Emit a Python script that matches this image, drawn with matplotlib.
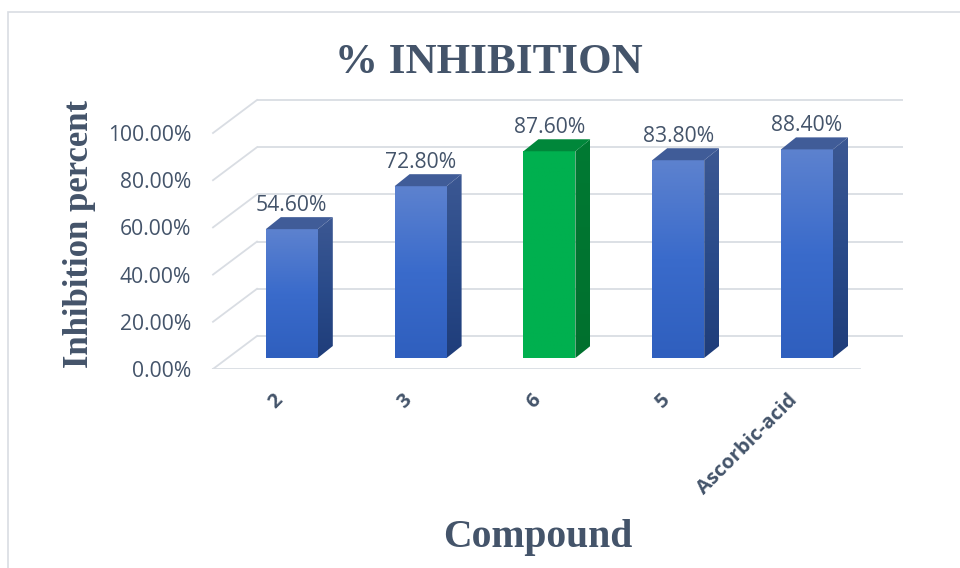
import matplotlib
matplotlib.use("Agg")
import matplotlib.pyplot as plt
import matplotlib.transforms as mtransforms
import numpy as np
from matplotlib.patches import Polygon, Rectangle
from matplotlib.colors import LinearSegmentedColormap

# ---------------- data ----------------
categories = ["2", "3", "6", "5", "Ascorbic-acid"]
values = [54.6, 72.8, 87.6, 83.8, 88.4]
value_labels = ["54.60%", "72.80%", "87.60%", "83.80%", "88.40%"]
ytick_values = [0, 20, 40, 60, 80, 100]
ytick_labels = ["0.00%", "20.00%", "40.00%", "60.00%", "80.00%", "100.00%"]
highlight = [False, False, True, False, False]

title = "% INHIBITION"
xlabel = "Compound"
ylabel = "Inhibition percent"

# ---------------- style / geometry ----------------
TXT = "#44546a"
GRID = "#d9dde3"
W, H, DPI = 960, 568, 100

PX_PER_CAT = 128.8
X0_PX = 291.8          # front centre of first bar
PX_PER_UNIT_Y = 2.36
Y0_PX = 369            # front floor line
AX_L_PX, AX_R_PX = 200, 910
AX_TOP_PX = 90

xlim = ((AX_L_PX - X0_PX) / PX_PER_CAT, (AX_R_PX - X0_PX) / PX_PER_CAT)
ylim = (0, (Y0_PX - AX_TOP_PX) / PX_PER_UNIT_Y)

# 3-D offsets in data units
WALL_DX, WALL_DY = 44 / PX_PER_CAT, 33 / PX_PER_UNIT_Y
BAR_DX, BAR_DY = 15 / PX_PER_CAT, 12 / PX_PER_UNIT_Y
BAR_BASE = 11 / PX_PER_UNIT_Y
BAR_W = 52 / PX_PER_CAT
FRONT_L = (213 - X0_PX) / PX_PER_CAT
FRONT_R = (860 - X0_PX) / PX_PER_CAT
BACK_R = (903 - X0_PX) / PX_PER_CAT

fig = plt.figure(figsize=(W / DPI, H / DPI), dpi=DPI)
fig.patch.set_facecolor("white")

# chart border
fig.add_artist(Rectangle((8 / W, -0.1), 1.2, 1 - 12 / H + 0.1, transform=fig.transFigure,
                         fill=False, edgecolor=GRID, linewidth=1.2))

ax = fig.add_axes([AX_L_PX / W, (H - Y0_PX) / H, (AX_R_PX - AX_L_PX) / W,
                   (Y0_PX - AX_TOP_PX) / H])
ax.set_xlim(*xlim)
ax.set_ylim(*ylim)
for s in ax.spines.values():
    s.set_visible(False)
ax.patch.set_alpha(0)

# gridlines: back wall + left wall diagonals
for p in ytick_values:
    ax.plot([FRONT_L + WALL_DX, BACK_R], [p + WALL_DY, p + WALL_DY], color=GRID, lw=1.3,
            zorder=1, solid_capstyle="butt")
    ax.plot([FRONT_L, FRONT_L + WALL_DX], [p, p + WALL_DY], color=GRID, lw=1.3, zorder=1)
# floor front edge
ax.plot([FRONT_L, FRONT_R], [0, 0], color=GRID, lw=1.3, zorder=1)

blue_front = LinearSegmentedColormap.from_list("bf", ["#2f5fbe", "#3a6bcb", "#5d82cf"])
blue_side = LinearSegmentedColormap.from_list("bs", ["#1f3d7a", "#2a4b8a", "#3c5893"])
green_front = LinearSegmentedColormap.from_list("gf", ["#00b04f", "#00b04f"])
green_side = LinearSegmentedColormap.from_list("gs", ["#00702e", "#007a33"])
grad = np.linspace(0, 1, 256).reshape(-1, 1)

for i, (v, hl) in enumerate(zip(values, highlight)):
    xl, xr = i - BAR_W / 2, i + BAR_W / 2
    yb, yt = BAR_BASE, BAR_BASE + v
    front_cm = green_front if hl else blue_front
    side_cm = green_side if hl else blue_side
    top_c = "#00873a" if hl else "#405c98"

    front = Rectangle((xl, yb), BAR_W, v, facecolor="none", edgecolor="none")
    ax.add_patch(front)
    im = ax.imshow(grad, cmap=front_cm, origin="lower", extent=[xl, xr, yb, yt],
                   aspect="auto", zorder=3, interpolation="bilinear")
    im.set_clip_path(front)
    side = Polygon([(xr, yb), (xr + BAR_DX, yb + BAR_DY), (xr + BAR_DX, yt + BAR_DY), (xr, yt)],
                   closed=True, facecolor="none", edgecolor="none")
    ax.add_patch(side)
    im2 = ax.imshow(grad, cmap=side_cm, origin="lower",
                    extent=[xr, xr + BAR_DX, yb, yt + BAR_DY], aspect="auto", zorder=3,
                    interpolation="bilinear")
    im2.set_clip_path(side)
    ax.add_patch(Polygon([(xl, yt), (xr, yt), (xr + BAR_DX, yt + BAR_DY), (xl + BAR_DX, yt + BAR_DY)],
                         closed=True, facecolor=top_c, edgecolor="none", zorder=4))
    ax.text(i, yt + BAR_DY + 2.6, value_labels[i], ha="center", va="baseline",
            fontsize=15.2, color=TXT, family="Open Sans", zorder=5)

ax.set_xlim(*xlim)
ax.set_ylim(*ylim)

ax.set_yticks(ytick_values)
ax.set_yticklabels(ytick_labels, fontsize=15.2, color=TXT, family="Open Sans")
ax.tick_params(axis="y", length=0, pad=(AX_L_PX - 191) * 72 / DPI)

ax.set_xticks(range(len(categories)))
ax.set_xticklabels(categories, rotation=45, ha="right", rotation_mode="anchor",
                   fontsize=14.5, fontweight="bold", color=TXT, family="Open Sans")
ax.tick_params(axis="x", length=0, pad=18)
shift = mtransforms.ScaledTranslation(-12 / DPI, -3 / DPI, fig.dpi_scale_trans)
for lbl in ax.get_xticklabels():
    lbl.set_va("center")
    lbl.set_transform(lbl.get_transform() + shift)

# titles
fig.text(488.5 / W, 1 - 72.7 / H, title, ha="center", va="baseline", fontsize=31,
         fontweight="bold", color=TXT, family="Liberation Serif")
fig.text(538 / W, 1 - 546.7 / H, xlabel, ha="center", va="baseline", fontsize=28.5,
         fontweight="bold", color=TXT, family="Liberation Serif")
fig.text(80 / W, 1 - 234 / H, ylabel, ha="center", va="center", rotation=90, fontsize=25,
         fontweight="bold", color=TXT, family="Liberation Serif")

fig.savefig("out.png", dpi=DPI, facecolor="white")
